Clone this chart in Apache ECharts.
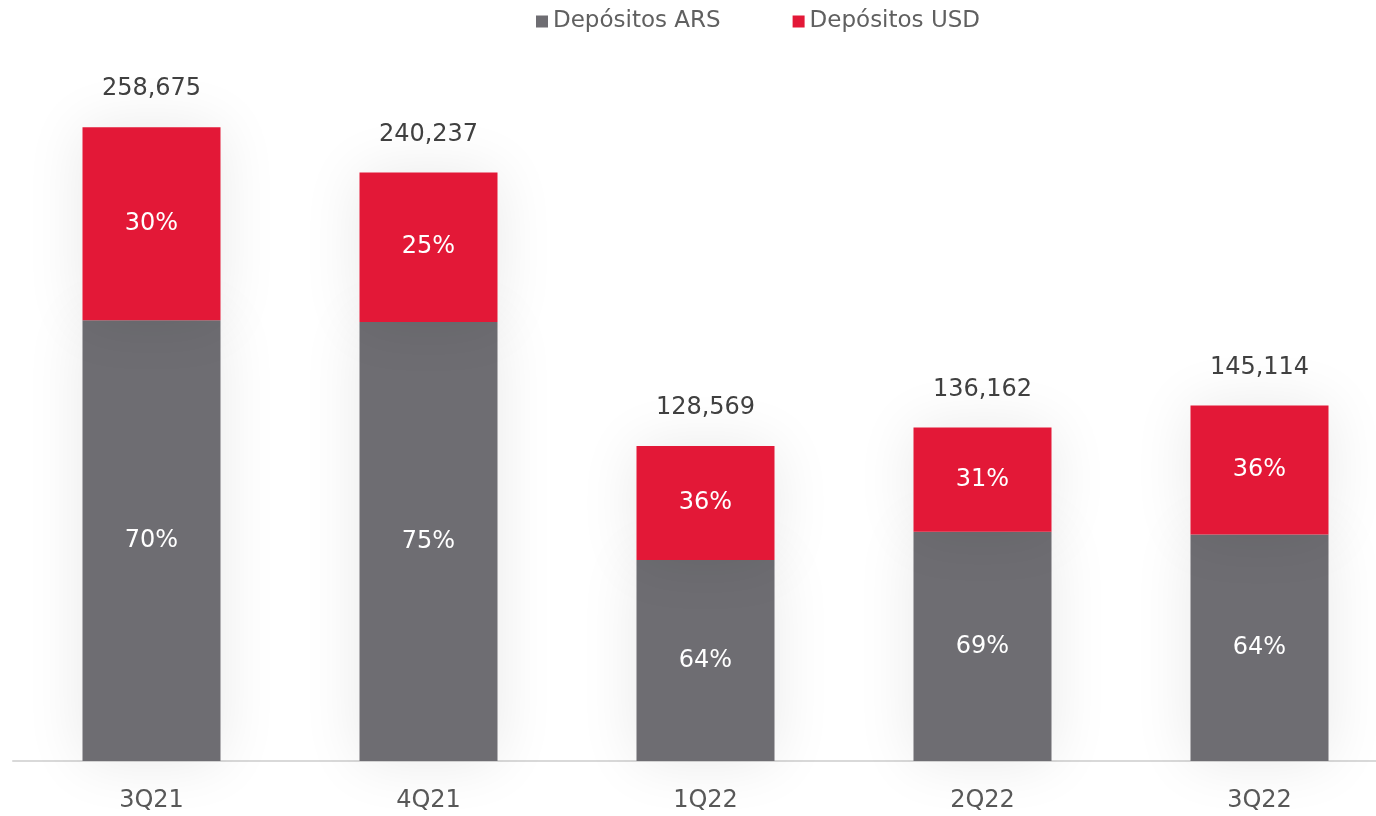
<!DOCTYPE html>
<html>
<head>
<meta charset="utf-8">
<title>Depósitos</title>
<script src="https://cdn.jsdelivr.net/npm/echarts@6/dist/echarts.min.js"></script>
<style>
  html, body { margin: 0; padding: 0; background: #fff; overflow: hidden; }
  #main { width: 1400px; height: 816px; }
</style>
</head>
<body>
<div id="main"></div>
<script>
var quarters = ['3Q21', '4Q21', '1Q22', '2Q22', '3Q22'];
var depositsArs = [179930, 179230, 82010, 93550, 92490];
var depositsUsd = [78745, 61007, 46559, 42612, 52624];
var totals = [258675, 240237, 128569, 136162, 145114];

var font = '"DejaVu Sans", "Noto Sans", sans-serif';

var pctLabel = function (arr) {
  return function (p) {
    return Math.round(arr[p.dataIndex] / totals[p.dataIndex] * 100) + '%';
  };
};

var chart = echarts.init(document.getElementById('main'));
chart.setOption({
  backgroundColor: '#ffffff',
  animation: false,
  legend: {
    data: ['Depósitos ARS', 'Depósitos USD'],
    left: 531,
    top: 5,
    icon: 'rect',
    itemWidth: 12,
    itemHeight: 12,
    itemGap: 72,
    textStyle: { color: '#606060', fontSize: 23, fontFamily: font }
  },
  grid: { left: 13, right: 2, top: 26, bottom: 55 },
  xAxis: {
    type: 'category',
    data: quarters,
    axisLine: { lineStyle: { color: '#d9d9d9', width: 2 } },
    axisTick: { show: false },
    axisLabel: { color: '#595959', fontSize: 24, fontFamily: font, margin: 28 }
  },
  yAxis: {
    type: 'value',
    min: 0,
    max: 300000,
    show: false,
    splitLine: { show: false }
  },
  series: [
    {
      name: 'Depósitos ARS',
      type: 'bar',
      stack: 'dep',
      barWidth: 138,
      data: depositsArs,
      itemStyle: { color: '#6e6d72', shadowBlur: 60, shadowColor: 'rgba(0,0,0,0.09)' },
      label: {
        show: true, position: 'inside', color: '#ffffff',
        fontSize: 24, fontFamily: font, formatter: pctLabel(depositsArs)
      }
    },
    {
      name: 'Depósitos USD',
      type: 'bar',
      stack: 'dep',
      barWidth: 138,
      data: depositsUsd,
      itemStyle: { color: '#e31837', shadowBlur: 60, shadowColor: 'rgba(0,0,0,0.09)' },
      label: {
        show: true, position: 'inside', color: '#ffffff',
        fontSize: 24, fontFamily: font, formatter: pctLabel(depositsUsd)
      }
    },
    {
      name: 'Total',
      type: 'bar',
      stack: 'dep',
      barWidth: 138,
      data: totals.map(function () { return 0; }),
      itemStyle: { color: 'transparent' },
      label: {
        show: true, position: 'top', distance: 26, color: '#404040',
        fontSize: 24, fontFamily: font,
        formatter: function (p) { return totals[p.dataIndex].toLocaleString('en-US'); }
      }
    }
  ]
});
</script>
</body>
</html>
